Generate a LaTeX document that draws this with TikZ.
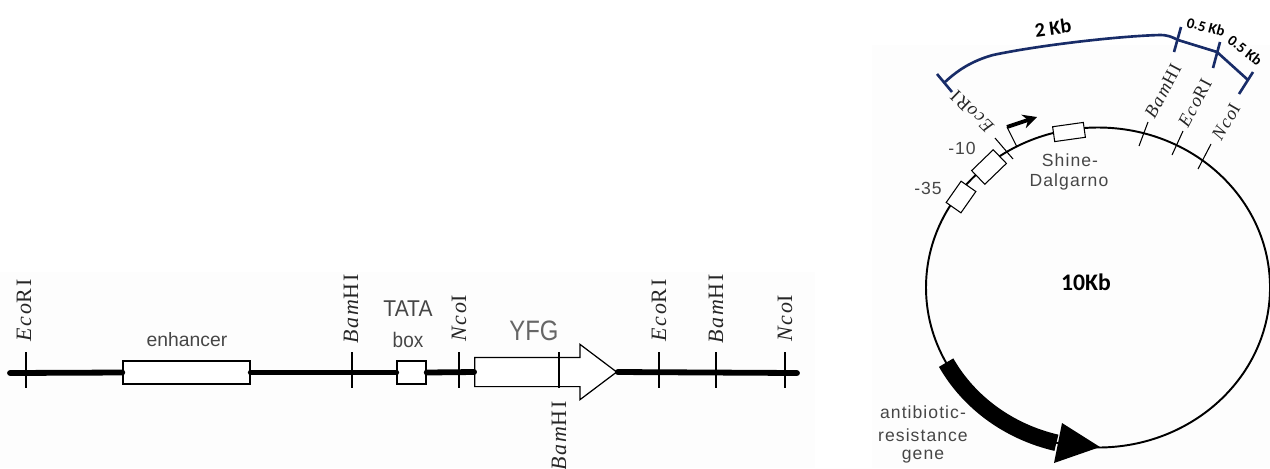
\documentclass[tikz,border=0pt]{standalone}
\usepackage{fontspec}
\usepackage{graphicx}
\usepackage{tikz}
\usetikzlibrary{arrows.meta,shapes.arrows}
\setmainfont{Liberation Sans}
\newfontfamily\sitefont[LetterSpace=9]{Liberation Serif}
\newfontfamily\wordfont[LetterSpace=6]{Liberation Sans}
\newfontfamily\sizefont{Carlito}
\newcommand{\Eco}{{\itshape Eco}RI}
\newcommand{\Bam}{{\itshape Bam}HI}
\newcommand{\Nco}{{\itshape Nco}I}
\definecolor{brace}{RGB}{24,44,104}
\definecolor{wordgray}{RGB}{70,70,70}

\begin{document}
\begin{tikzpicture}[
  x=0.02cm,y=-0.02cm,
  dna/.style={line width=3.3pt,line cap=round},
  elem/.style={draw,fill=white,line width=0.8pt,inner sep=0pt},
  sitetick/.style={draw,line width=0.6pt},
  site/.style={inner sep=0pt,font=\sitefont\fontsize{12.5}{13}\selectfont,text=black!85},
  cirsite/.style={site,font=\sitefont\fontsize{10.5}{11}\selectfont},
  word/.style={inner sep=0pt,font=\wordfont\fontsize{10}{11}\selectfont,text=wordgray},
  plain/.style={inner sep=0pt,font=\fontsize{11}{12}\selectfont,text=wordgray},
  plasmid/.style={line width=1.1pt},
  brc/.style={draw=brace,line width=1.5pt},
  kb/.style={inner sep=0pt,font=\sizefont\bfseries\fontsize{8.5}{9}\selectfont}
]

\useasboundingbox (0,0) rectangle (1270,468);
\fill[black!0.7] (0,272) rectangle (815,468);
\fill[black!0.7] (872,45) rectangle (1270,468);

% linear construct
\coordinate (lstart) at (10,373);
\coordinate (lend) at (797,373);
\node[elem,minimum width=2.54cm,minimum height=0.46cm] (enh) at (186.5,372.5) {};
\node[elem,minimum width=0.58cm,minimum height=0.46cm] (tata) at (411.5,372.5) {};
\node[draw,fill=white,line width=0.7pt,single arrow,inner sep=0pt,inner ysep=0.28cm,
  minimum height=2.84cm,single arrow head extend=0.26cm,
  single arrow tip angle=74] (yfg) at (536,372) {};

\draw[dna] (lstart) -- (enh.west);
\draw[dna] (enh.east) -- (tata.west);
\draw[dna] (tata.east) -- (yfg.west);
\draw[dna] (yfg.tip) -- (lend);

\foreach \n/\x in {ea/26,ba/352,na/459,bb/559,eb/659,bc/716,nb/785}{
  \coordinate (\n t) at (\x,352);
  \coordinate (\n d) at (\x,388);
  \draw[sitetick] (\n t) -- (\n d);
}

\node[site,rotate=90,anchor=west] (lblea) at (24,342) {\Eco};
\node[site,rotate=90,anchor=west] (lblba) at (351,344) {\Bam};
\node[site,rotate=90,anchor=west] (lblna) at (459,342) {\Nco};
\node[site,rotate=90,anchor=east] (lblbb) at (559,401) {\Bam};
\node[site,rotate=90,anchor=west] (lbleb) at (659,342) {\Eco};
\node[site,rotate=90,anchor=west] (lblbc) at (716,344) {\Bam};
\node[site,rotate=90,anchor=west] (lblnb) at (785,342) {\Nco};

\node[plain] (enhlab) at (187,340) {enhancer};
\node[plain,font=\fontsize{13}{14}\selectfont] (tatalab) at (408,309) {\scalebox{0.92}[1]{TATA}};
\node[plain,font=\fontsize{12}{13}\selectfont] (boxlab) at (408,340) {\scalebox{0.9}[1]{box}};
\node[plain,font=\fontsize{16}{17}\selectfont,text=black!60] (yfglab) at (534,331) {\scalebox{0.85}[1]{YFG}};

% plasmid
\coordinate (ctr) at (1098,287.5);
\draw[plasmid] (ctr) ellipse[x radius=172,y radius=160];

\node[elem,line width=0.6pt,rotate=44,minimum width=0.6cm,minimum height=0.38cm] (ten) at (989,167) {};
\node[elem,line width=0.6pt,rotate=55,minimum width=0.52cm,minimum height=0.36cm] (tfive) at (961,197) {};
\node[elem,line width=0.6pt,rotate=8,minimum width=0.62cm,minimum height=0.3cm] (sd) at (1069,132) {};

\draw[line width=9.5pt] (ctr) ++(152:172 and 160) arc[start angle=152,end angle=104,x radius=172,y radius=160];
\coordinate (hda) at (1062,423);
\coordinate (hdb) at (1054,463);
\coordinate (hdc) at (1100,447);
\fill (hda) -- (hdc) -- (hdb) -- cycle;

\foreach \n/\xa/\ya/\xb/\yb in {cb/1148/122/1139/146,ce/1183/131/1172/155,cn/1211/144/1198/169,cl/995/138/1013/159}{
  \coordinate (\n s) at (\xa,\ya);
  \coordinate (\n f) at (\xb,\yb);
  \draw[sitetick] (\n s) -- (\n f);
}

\node[cirsite,rotate=62] (lblcb) at (1163,91) {\Bam};
\node[cirsite,rotate=62] (lblce) at (1195,103) {\Eco};
\node[cirsite,rotate=60] (lblcn) at (1226,122) {\Nco};
\node[cirsite,rotate=136] (lblcl) at (972,112) {\Eco};

\coordinate (proa) at (1017,147);
\coordinate (prob) at (1007,127);
\coordinate (proc) at (1037,117);
\draw[sitetick] (proa) -- (prob);
\draw[line width=2.2pt,-{Stealth[length=8pt,width=8pt]}] (prob) -- (proc);

\node[word] (mten) at (962,148) {-10};
\node[word] (mtfive) at (928,188) {-35};
\node[word] (sdone) at (1070,160) {Shine-};
\node[word] (sdtwo) at (1069,182) {Dalgarno};
\node[word] (abone) at (923,412) {antibiotic-};
\node[word] (abtwo) at (923,435) {resistance};
\node[word] (abthree) at (923,457) {gene};

% sizes above the plasmid
\coordinate (bs) at (945,82);
\coordinate (bm) at (1178,40);
\coordinate (be) at (1217,52);
\coordinate (bn) at (1248,80);
\draw[brc] (bs) .. controls (960,68) and (975,60) .. (993,55)
  .. controls (1040,45) and (1120,36) .. (1160,35)
  .. controls (1168,35) and (1172,37) .. (bm) -- (be) -- (bn);

\foreach \n/\xa/\ya/\xb/\yb in {ka/937/74/952/92,kb/1181/27/1174/52,kc/1220/42/1213/68,kd/1253/72/1239/94}{
  \coordinate (\n s) at (\xa,\ya);
  \coordinate (\n f) at (\xb,\yb);
  \draw[brc] (\n s) -- (\n f);
}

\node[kb,font=\sizefont\bfseries\fontsize{11.5}{12}\selectfont,rotate=8] (twokb) at (1053,28) {2 Kb};
\node[kb,rotate=-15] (halfa) at (1206,27) {0.5 Kb};
\node[kb,rotate=-38] (halfb) at (1245,50) {0.5 Kb};
\node[kb,font=\sizefont\bfseries\fontsize{13.5}{14}\selectfont] (total) at (1086,282) {10Kb};

\end{tikzpicture}
\end{document}
